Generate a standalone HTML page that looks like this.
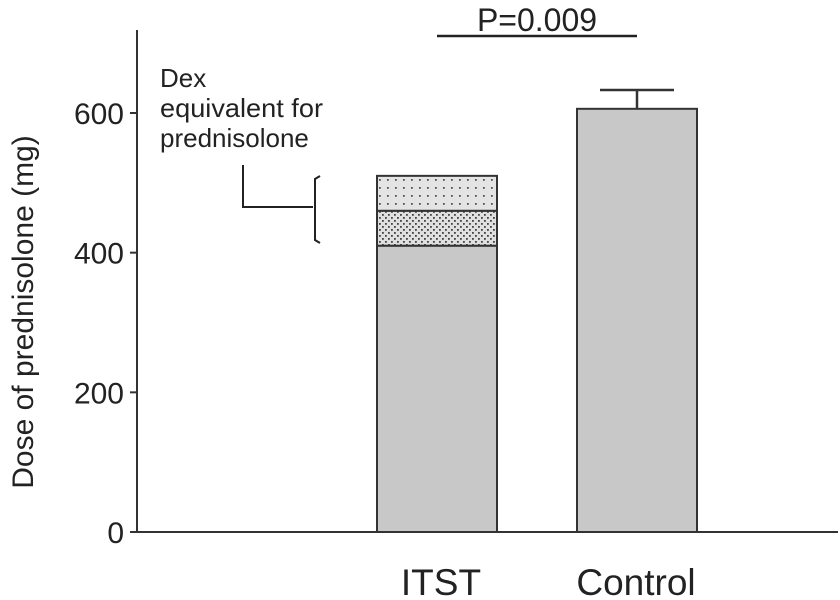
<!DOCTYPE html>
<html><head><meta charset="utf-8"><style>
html,body{margin:0;padding:0;background:#fff;}
svg{display:block;font-family:"Liberation Sans",sans-serif;}
</style></head><body>
<svg id="chart" width="840" height="600" viewBox="0 0 840 600">
<defs>
<pattern id="dotsSparse" width="8" height="8" patternUnits="userSpaceOnUse">
<rect width="8" height="8" fill="#e4e4e4"/><rect x="3" y="3" width="1.8" height="1.8" fill="#555"/>
</pattern>
<pattern id="dotsDense" width="6" height="6" patternUnits="userSpaceOnUse">
<rect width="6" height="6" fill="#e0e0e0"/><rect x="1" y="1" width="1.8" height="1.8" fill="#444"/><rect x="4" y="4" width="1.8" height="1.8" fill="#444"/>
</pattern>
</defs>
<g id="marks"></g>
<line x1="137" y1="30" x2="137" y2="532" stroke="#333" stroke-width="2"/>
<line x1="137" y1="532" x2="838" y2="532" stroke="#333" stroke-width="2"/>
<g id="yticks"></g>
<text transform="translate(33,312) rotate(-90)" text-anchor="middle" font-size="30" fill="#222">Dose of prednisolone (mg)</text>
<text x="441" y="595" text-anchor="middle" font-size="37" fill="#222">ITST</text>
<text x="636" y="595" text-anchor="middle" font-size="37" fill="#222">Control</text>
<line x1="437" y1="36" x2="637" y2="36" stroke="#222" stroke-width="2.5"/>
<text x="537" y="31" text-anchor="middle" font-size="32" fill="#222">P=0.009</text>
<g>
<text x="160" y="87" font-size="26" fill="#222">Dex</text>
<text x="160" y="117" font-size="26" fill="#222" textLength="163" lengthAdjust="spacingAndGlyphs">equivalent for</text>
<text x="160" y="147" font-size="26" fill="#222">prednisolone</text>
<polyline points="243,165 243,207 313,207" fill="none" stroke="#222" stroke-width="2"/>
<path d="M320,176 L315,179 L315,240 L320,243" fill="none" stroke="#222" stroke-width="2"/>
</g>
<script>
const categories = ["ITST", "Control"];
const baseValues = [410, 606];
const dexLower = [50, 0];
const dexUpper = [50, 0];
const errorUpper = [0, 27];
const yTicks = [0, 200, 400, 600];
const y = v => 532 - v * (419 / 600);
const xCenter = i => 437 + i * 200;
const barW = 120;
const ns = "http://www.w3.org/2000/svg";
const marks = document.getElementById("marks");
function rect(x, y0, y1, fill, name) {
  const r = document.createElementNS(ns, "rect");
  r.setAttribute("x", x); r.setAttribute("y", y1);
  r.setAttribute("width", barW); r.setAttribute("height", y0 - y1);
  r.setAttribute("fill", fill); r.setAttribute("stroke", "#333"); r.setAttribute("stroke-width", "2");
  
  
  marks.appendChild(r);
}
categories.forEach((c, i) => {
  const x = xCenter(i) - barW / 2;
  const key = c.toLowerCase();
  rect(x, y(0), y(baseValues[i]), "#c8c8c8", "bar-" + key);
  let top = baseValues[i];
  if (dexLower[i] > 0) { rect(x, y(top), y(top + dexLower[i]), "url(#dotsDense)", "bar-" + key + "-dex-lower"); top += dexLower[i]; }
  if (dexUpper[i] > 0) { rect(x, y(top), y(top + dexUpper[i]), "url(#dotsSparse)", "bar-" + key + "-dex-upper"); top += dexUpper[i]; }
  if (errorUpper[i] > 0) {
    const g = document.createElementNS(ns, "path");
    const cx = xCenter(i), yt = y(top + errorUpper[i]);
    g.setAttribute("d", `M${cx},${y(top)} L${cx},${yt} M${cx - 37},${yt} L${cx + 37},${yt}`);
    g.setAttribute("stroke", "#333"); g.setAttribute("stroke-width", "2.5"); g.setAttribute("fill", "none");
    
    
    marks.appendChild(g);
  }
});
const yt = document.getElementById("yticks");
yTicks.forEach(v => {
  const l = document.createElementNS(ns, "line");
  l.setAttribute("x1", 130); l.setAttribute("x2", 137); l.setAttribute("y1", y(v)); l.setAttribute("y2", y(v));
  l.setAttribute("stroke", "#333"); l.setAttribute("stroke-width", "2");
  
  
  yt.appendChild(l);
  const t = document.createElementNS(ns, "text");
  t.setAttribute("x", 124); t.setAttribute("y", y(v) + 11); t.setAttribute("text-anchor", "end");
  t.setAttribute("font-size", "30"); t.setAttribute("fill", "#222");
  t.textContent = v;
  
  
  yt.appendChild(t);
});
</script>
</svg>
</body></html>
